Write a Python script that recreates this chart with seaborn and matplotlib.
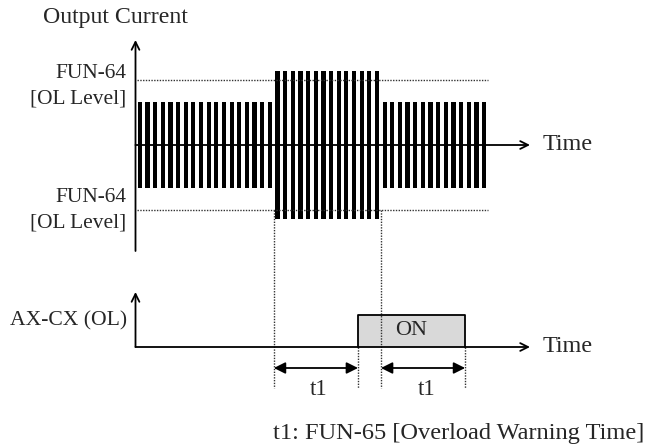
import numpy as np
import pandas as pd
import seaborn as sns
import matplotlib.pyplot as plt

sns.set_style("white")
plt.rcParams['font.family'] = ['Liberation Serif', 'DejaVu Serif']

# signal data (current in units of the normal peak, time in pulse periods)
pulse_counts = [18, 14, 14]      # normal / overload / normal stretches
pulse_amps = [1.0, 1.71, 1.0]
ol_level = 1.49                  # FUN-64 overload level
ol_start, ol_end = 17.8, 31.8    # when the current crosses the OL level
t1 = 11.0                        # FUN-65 overload warning time
on_level = 0.74                  # AX-CX output when ON

# layout in pixels of the 651x447 picture
W, H = 651, 447
X0, PITCH = 137.7, 7.65
Y0, UNIT = 145, 43.3


def tx(xp):
    return (xp - X0) / PITCH


def ty(yp):
    return (Y0 - yp) / UNIT


amps = np.repeat(pulse_amps, pulse_counts)
df = pd.DataFrame({"t": np.arange(len(amps)) + 0.275, "amp": amps})
df_neg = df.assign(amp=-df["amp"])

on_start = ol_start + t1
on_end = ol_end + t1

fig = plt.figure(figsize=(W / 100, H / 100), dpi=100)
ax = fig.add_axes([0, 0, 1, 1])

for d in (df, df_neg):
    sns.barplot(data=d, x="t", y="amp", native_scale=True, width=0.55,
                color="black", saturation=1, linewidth=0, ax=ax)

axis_x = tx(135.5)
t_end = tx(530)
low = ty(347)
dot = dict(color="#333333", lw=1, ls=(0, (1, 1)))
arr_open = dict(arrowstyle="->", lw=1.3, color="black", shrinkA=0, shrinkB=0,
                mutation_scale=14)
arr_both = dict(arrowstyle="<|-|>", lw=1.3, color="black", shrinkA=0, shrinkB=0,
                mutation_scale=17)

# top: output current axes
ax.annotate("", xy=(axis_x, ty(40)), xytext=(axis_x, ty(251)), arrowprops=arr_open)
ax.annotate("", xy=(t_end, 0), xytext=(axis_x, 0), arrowprops=arr_open)
for lv in (ol_level, -ol_level):
    ax.plot([tx(137), tx(488)], [lv, lv], **dot)

# vertical guides
for t in (ol_start, ol_end):
    ax.plot([t, t], [-ol_level, ty(388)], **dot)
for t in (on_start, on_end):
    ax.plot([t, t], [low, ty(388)], **dot)

# bottom: AX-CX output
ax.annotate("", xy=(axis_x, ty(292)), xytext=(axis_x, low), arrowprops=arr_open)
ax.annotate("", xy=(t_end, low), xytext=(axis_x, low), arrowprops=arr_open)
ax.fill_between([on_start, on_end], low, low + on_level, color="#d9d9d9", lw=0)
ax.plot([on_start, on_start, on_end, on_end], [low, low + on_level, low + on_level, low],
        color="black", lw=1.3)
ax.text((on_start + on_end) / 2, low + on_level / 2, "ON", ha="center", va="center",
        fontsize=16)

# t1 spans
y_arr = ty(368)
for a, b in ((ol_start, on_start), (ol_end, on_end)):
    ax.annotate("", xy=(b, y_arr), xytext=(a, y_arr), arrowprops=arr_both)
    ax.text((a + b) / 2 + 0.4, ty(390), "t1", ha="center", va="center", fontsize=16.5)

# labels
ax.text(tx(43), ty(17), "Output Current", ha="left", va="center", fontsize=17.2)
ax.text(tx(126), ty(74), "FUN-64", ha="right", va="center", fontsize=15.4)
ax.text(tx(126), ty(99), "[OL Level]", ha="right", va="center", fontsize=15.4)
ax.text(tx(126), ty(198), "FUN-64", ha="right", va="center", fontsize=15.4)
ax.text(tx(126), ty(223), "[OL Level]", ha="right", va="center", fontsize=15.4)
ax.text(tx(127), ty(321), "AX-CX (OL)", ha="right", va="center", fontsize=15.6)
ax.text(tx(543), 0, "Time", ha="left", va="center", fontsize=17.4)
ax.text(tx(543), low, "Time", ha="left", va="center", fontsize=17.4)
ax.text(tx(273), ty(434), "t1: FUN-65 [Overload Warning Time]", ha="left",
        va="center", fontsize=17.6)

ax.set_xlim(tx(0), tx(W))
ax.set_ylim(ty(H), ty(0))
ax.axis("off")

fig.savefig("out.png", dpi=100)
